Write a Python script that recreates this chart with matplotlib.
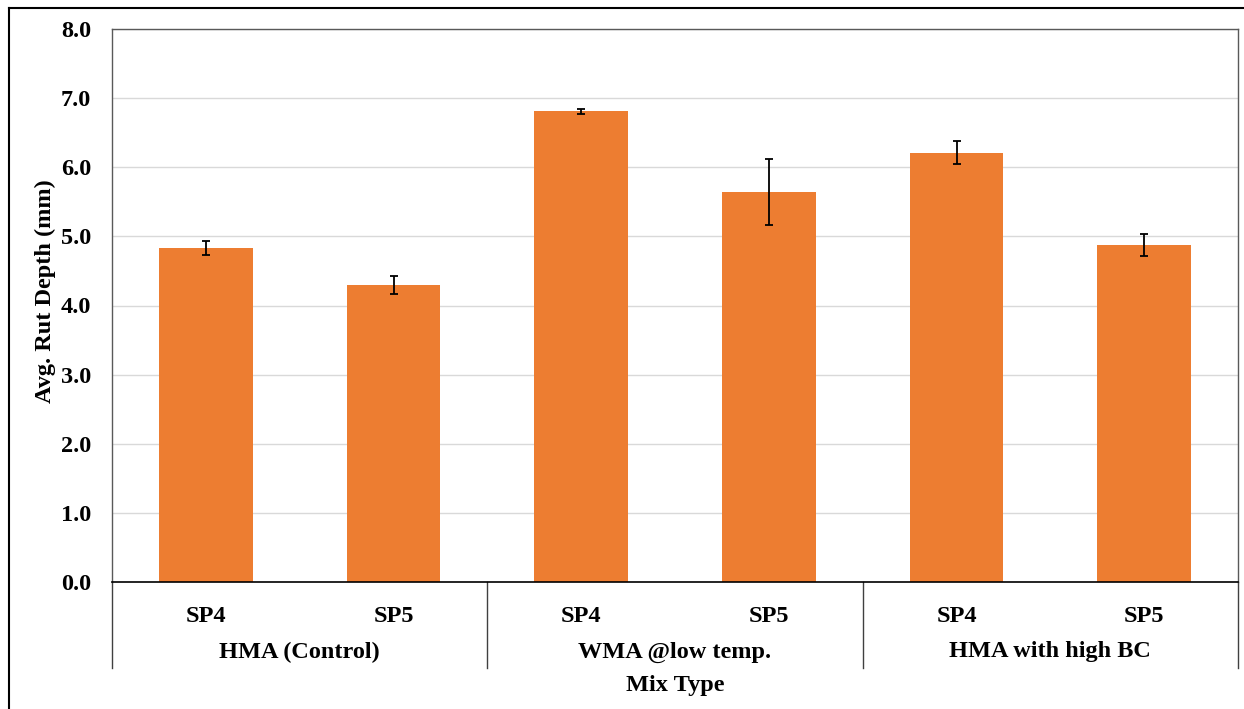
import matplotlib.pyplot as plt
import matplotlib.transforms as mtransforms
from matplotlib.lines import Line2D

groups = ["HMA (Control)", "WMA @low temp.", "HMA with high BC"]
samples = ["SP4", "SP5"]
rut_depth = [4.83, 4.29, 6.81, 5.64, 6.21, 4.87]
rut_err = [0.10, 0.13, 0.035, 0.48, 0.165, 0.16]
yticks = [0.0, 1.0, 2.0, 3.0, 4.0, 5.0, 6.0, 7.0, 8.0]

plt.rcParams['font.family'] = ['Liberation Serif', 'DejaVu Serif']
plt.rcParams['font.weight'] = 'bold'
fs = 17.5

fig = plt.figure(figsize=(12.44, 7.09), dpi=100)
ax = fig.add_axes([112/1244, 1 - 582/709, (1238-112)/1244, (582-29)/709])

x = list(range(len(rut_depth)))
ax.bar(x, rut_depth, width=0.5, color='#ED7D31', zorder=2)
ax.errorbar(x, rut_depth, yerr=rut_err, fmt='none', ecolor='black',
            elinewidth=1.3, capsize=3, capthick=1.3, zorder=3)

ax.set_xlim(-0.5, len(rut_depth) - 0.5)
ax.set_ylim(0, 8)
ax.set_yticks(yticks)
ax.set_yticklabels(["%.1f" % v for v in yticks], fontsize=fs, fontweight='bold')
ax.tick_params(axis='y', length=0, pad=15)
ax.yaxis.grid(True, color='#d9d9d9', linewidth=1, zorder=0)
ax.set_axisbelow(True)

ax.set_xticks(x)
ax.set_xticklabels(samples * len(groups), fontsize=fs, fontweight='bold')
ax.tick_params(axis='x', length=0, pad=17)

for s in ['top', 'left', 'right']:
    ax.spines[s].set_color('#595959')
    ax.spines[s].set_linewidth(1)
ax.spines['bottom'].set_color('black')
ax.spines['bottom'].set_linewidth(1.2)

trans = mtransforms.blended_transform_factory(ax.transData, ax.transAxes)
depth = 86 / 553
for i in range(len(groups) + 1):
    xs = i * len(samples) - 0.5
    ax.add_line(Line2D([xs, xs], [0, -depth], transform=trans, color='#404040',
                       linewidth=1, clip_on=False))
for i, g in enumerate(groups):
    xc = i * len(samples) + (len(samples) - 1) / 2
    ax.text(xc, -70 / 553, g, transform=trans, ha='center', va='center',
            fontsize=fs, fontweight='bold')

fig.text((112 + 1238) / 2 / 1244, 1 - 685 / 709, "Mix Type", ha='center', va='center',
         fontsize=fs, fontweight='bold')
fig.text(45 / 1244, 1 - 291 / 709, "Avg. Rut Depth (mm)", rotation=90,
         ha='center', va='center', fontsize=fs, fontweight='bold')

# outer frame
fig.add_artist(Line2D([9/1244, 1], [1 - 8/709, 1 - 8/709], transform=fig.transFigure,
                      color='black', linewidth=1.5))
fig.add_artist(Line2D([9/1244, 9/1244], [0, 1 - 8/709], transform=fig.transFigure,
                      color='black', linewidth=1.5))

fig.savefig("out.png", dpi=100)
